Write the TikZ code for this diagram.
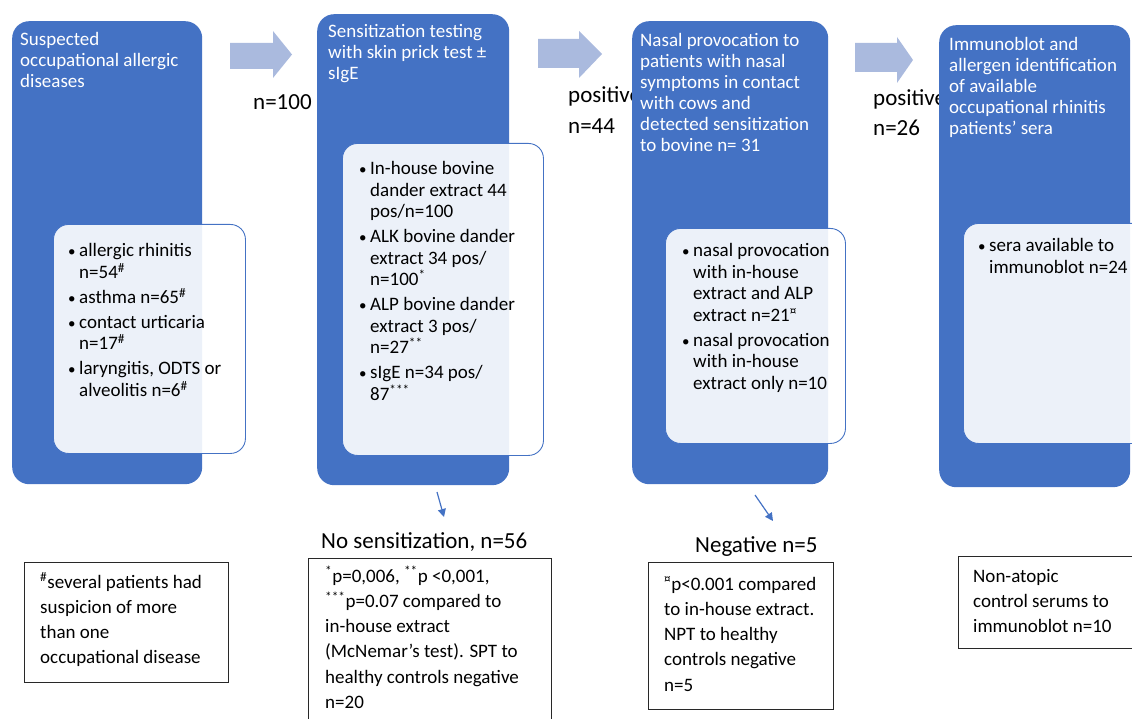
\documentclass[tikz,border=0pt]{standalone}
\usepackage{fontspec}
\setmainfont{Carlito}
\usetikzlibrary{arrows.meta}
\definecolor{boxblue}{RGB}{68,114,196}
\definecolor{arrowblue}{RGB}{170,186,222}
\definecolor{notegray}{RGB}{40,40,40}
\newcommand\litem[1]{\par\hangindent=11pt\hangafter=1\noindent\makebox[11pt][l]{\fontsize{15}{15}\selectfont •}#1}
\newcommand\supx[1]{\textsuperscript{#1}}
\begin{document}
\begin{tikzpicture}[x=1pt,y=-1pt,
  stage/.style={fill=boxblue, rounded corners=17pt, anchor=north west, inner sep=0pt},
  panel/.style={draw=boxblue, line width=0.9pt, fill=white, fill opacity=0.9, rounded corners=15pt, anchor=north west, inner sep=0pt},
  notebox/.style={draw=notegray, line width=1.1pt, anchor=north west, inner sep=0pt},
  blockarrow/.style={fill=arrowblue},
  title/.style={text=white, anchor=base west, inner sep=0pt, font=\fontsize{19}{21}\selectfont},
  listtext/.style={text=black, anchor=base west, inner sep=0pt, font=\fontsize{19}{21.5}\selectfont},
  notetext/.style={text=black, anchor=base west, inner sep=0pt, font=\fontsize{19}{25.3}\selectfont},
  flowlabel/.style={text=black, anchor=base west, inner sep=0pt, font=\fontsize{23}{31}\selectfont},
  smallarrow/.style={draw=boxblue, line width=1.2pt, -{Triangle[length=8pt,width=8pt]}}
]
\useasboundingbox (0,0) rectangle (1132,719);
\clip (0,0) rectangle (1132,719);

% block arrows between stages
\fill[blockarrow] (230,43) -- (273,43) -- (273,31) -- (292,54.5) -- (273,78) -- (273,69) -- (230,69) -- cycle;
\fill[blockarrow] (538,39) -- (579,39) -- (579,31) -- (602,54) -- (579,78) -- (579,68) -- (538,68) -- cycle;
\fill[blockarrow] (855,43) -- (897,43) -- (897,37) -- (913,60) -- (897,83) -- (897,72) -- (855,72) -- cycle;

% flow labels
\node[flowlabel] (n100) at (253,110) {n=100};
\node[flowlabel] (pos1) at (568,103) {positive};
\node[flowlabel] (n44) at (568,134) {n=44};
\node[flowlabel] (pos2) at (873,106) {positive};
\node[flowlabel] (n26) at (873,136) {n=26};

% stage boxes
\node[stage, minimum width=190pt, minimum height=463pt] (b1) at (12,21) {};
\node[stage, minimum width=192pt, minimum height=471pt] (b2) at (317,14) {};
\node[stage, minimum width=196pt, minimum height=463pt] (b3) at (632,21) {};
\node[stage, minimum width=191pt, minimum height=462pt] (b4) at (939,25) {};

% inner panels
\node[panel, minimum width=192pt, minimum height=229pt] (p1) at (53,224) {};
\node[panel, minimum width=201pt, minimum height=312pt] (p2) at (342,143) {};
\node[panel, minimum width=180pt, minimum height=215pt] (p3) at (665,228) {};
\node[panel, minimum width=200pt, minimum height=220pt] (p4) at (963,223) {};

% titles
\node[title] (t1) at (20,46) {\parbox[t]{185pt}{\raggedright Suspected\\occupational allergic\\diseases}};
\node[title] (t2) at (328,38) {\parbox[t]{185pt}{\raggedright Sensitization testing\\with skin prick test ±\\sIgE}};
\node[title] (t3) at (640,47) {\parbox[t]{190pt}{\raggedright Nasal provocation to\\patients with nasal\\symptoms in contact\\with cows and\\detected sensitization\\to bovine n= 31}};
\node[title] (t4) at (949,51) {\parbox[t]{185pt}{\raggedright Immunoblot and\\allergen identification\\of available\\occupational rhinitis\\patients' sera}};

% lists
\node[listtext] (l1) at (68,257) {\parbox[t]{185pt}{\setlength\parskip{3.5pt}%
\litem{allergic rhinitis\newline n=54\supx{\#}}%
\litem{asthma n=65\supx{\#}}%
\litem{contact urticaria\newline n=17\supx{\#}}%
\litem{laryngitis, ODTS or\newline alveolitis n=6\supx{\#}}}};
\node[listtext] (l2) at (359,175) {\parbox[t]{185pt}{\setlength\parskip{3.5pt}%
\litem{In-house bovine\newline dander extract 44\newline pos/n=100}%
\litem{ALK bovine dander\newline extract 34 pos/\newline n=100\supx{*}}%
\litem{ALP bovine dander\newline extract 3 pos/\newline n=27\supx{**}}%
\litem{sIgE n=34 pos/\newline 87\supx{***}}}};
\node[listtext] (l3) at (682,257) {\parbox[t]{185pt}{\setlength\parskip{3.5pt}%
\litem{nasal provocation\newline with in-house\newline extract and ALP\newline extract n=21\supx{¤}}%
\litem{nasal provocation\newline with in-house\newline extract only n=10}}};
\node[listtext] (l4) at (978,252) {\parbox[t]{185pt}{\setlength\parskip{3.5pt}%
\litem{sera available to\newline immunoblot n=24}}};

% outcome labels and small arrows
\node[flowlabel] (nosens) at (321,548) {No sensitization, n=56};
\node[flowlabel] (neg) at (695,552) {Negative n=5};
\coordinate (a2s) at (437,492);
\coordinate (a2e) at (444,517);
\coordinate (a3s) at (755,495);
\coordinate (a3e) at (773,521);
\draw[smallarrow] (a2s) -- (a2e);
\draw[smallarrow] (a3s) -- (a3e);

% note boxes
\node[notebox, minimum width=204pt, minimum height=120pt] (fa) at (24,562) {};
\node[notebox, minimum width=243pt, minimum height=180pt] (fb) at (308,558) {};
\node[notebox, minimum width=185pt, minimum height=147pt] (fc) at (648,562) {};
\node[notebox, minimum width=190pt, minimum height=92pt] (fd) at (958,556) {};

\node[notetext] (na) at (40,588) {\parbox[t]{200pt}{\raggedright \supx{\#}several patients had\\suspicion of more\\than one\\occupational disease}};
\node[notetext] (nb) at (325,582) {\parbox[t]{230pt}{\raggedright \supx{*}p=0,006, \supx{**}p <0,001,\\\supx{***}p=0.07 compared to\\in-house extract\\(McNemar’s test). SPT to\\healthy controls negative\\n=20}};
\node[notetext] (nc) at (664,590) {\parbox[t]{200pt}{\raggedright \supx{¤}p<0.001 compared\\to in-house extract.\\NPT to healthy\\controls negative\\n=5}};
\node[notetext] (nd) at (973,582) {\parbox[t]{200pt}{\raggedright Non-atopic\\control serums to\\immunoblot n=10}};
\end{tikzpicture}
\end{document}
